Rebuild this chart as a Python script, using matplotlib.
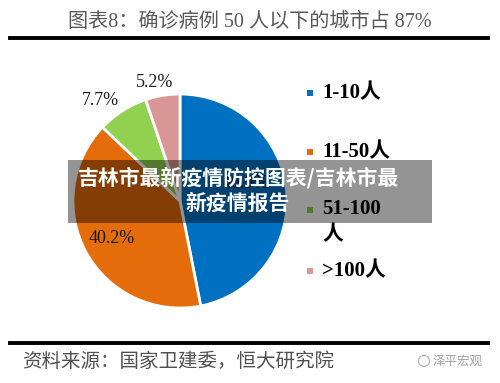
import matplotlib
matplotlib.use("Agg")
import matplotlib.pyplot as plt
from matplotlib.patches import Rectangle, Ellipse
from matplotlib.lines import Line2D

# data
categories = ["1-10人", "11-50人", "51-100\n人", ">100人"]
shares = [46.9, 40.2, 7.7, 5.2]
colors = ["#0070C0", "#E46C0A", "#92D050", "#D99694"]
legend_colors = ["#0070C0", "#E46C0A", "#92D050", "#D99694"]

title = "图表8：确诊病例 50 人以下的城市占 87%"
source = "资料来源：国家卫建委，恒大研究院"
banner = "吉林市最新疫情防控图表/吉林市最\n新疫情报告"
watermark = "泽平宏观"

W, H = 500, 383
SERIF_CJK = ["Liberation Serif", "Noto Sans CJK SC"]
CJK = ["Noto Sans CJK SC", "DejaVu Sans"]


def fx(px):
    return px / W


def fy(py):
    return 1 - py / H


fig = plt.figure(figsize=(W / 100, H / 100), dpi=100)
fig.patch.set_facecolor("white")

# title and rules
fig.text(fx(250), fy(22), title, ha="center", va="center", fontsize=14.5,
         color="#595959", family=SERIF_CJK)
fig.add_artist(Line2D([fx(10), fx(488)], [fy(38), fy(38)], lw=2.8, color="black"))
fig.add_artist(Line2D([fx(10), fx(488)], [fy(343), fy(343)], lw=2.8, color="black"))
fig.text(fx(22), fy(361), source, ha="left", va="center", fontsize=14,
         color="#505050", family=CJK)
fig.text(fx(483), fy(361), watermark, ha="right", va="center", fontsize=9,
         color="#a0a0a0", family=CJK)
fig.add_artist(Ellipse((fx(424), fy(361)), 11 / W, 11 / H, fill=False,
                       edgecolor="#b0b0b0", lw=0.8))

# pie
cx, cy, r = 180, 201, 107
ax = fig.add_axes([fx(cx - r), fy(cy + r), 2 * r / W, 2 * r / H])
wedges, texts, autotexts = ax.pie(
    shares, colors=colors, startangle=90, counterclock=False,
    autopct="%.1f%%", pctdistance=0.73,
    wedgeprops=dict(edgecolor="white", linewidth=2),
    textprops=dict(fontsize=13, family="Liberation Serif", color="#1a1a1a"))
ax.set_xlim(-1, 1)
ax.set_ylim(-1, 1)
ax.set_aspect("equal")
ax.axis("off")

# blue label sits further in, the two small slices outside
bx, by = autotexts[0].get_position()
autotexts[0].set_position((bx * 0.85, by * 0.85 + 0.1))
x, y = autotexts[2].get_position()
autotexts[2].set_position((x * 1.63 - 0.1, y * 1.63 - 0.06))
x, y = autotexts[3].get_position()
autotexts[3].set_position((x * 1.56 - 0.05, y * 1.56 - 0.02))

# legend
legend_y = [93, 152, 210, 271]
for lab, col, y in zip(categories, legend_colors, legend_y):
    fig.add_artist(Rectangle((fx(307), fy(y + 3)), 6 / W, 6 / H,
                             facecolor=col, edgecolor="none"))
    multi = "\n" in lab
    fig.text(fx(322), fy(y - 11) if multi else fy(y), lab, ha="left",
             va="top" if multi else "center", fontsize=15, fontweight="bold",
             family=SERIF_CJK, color="black", linespacing=1.4)

# overlay banner (darkening band)
fig.add_artist(Rectangle((fx(68), fy(223)), (432 - 68) / W, (223 - 160) / H,
                         facecolor="black", alpha=0.42, edgecolor="none",
                         zorder=10))
fig.text(fx(238), fy(190), banner, ha="center", va="center", fontsize=15,
         fontweight="bold", color="white", family=CJK, linespacing=1.25,
         zorder=11)

fig.savefig("out.png", dpi=100, facecolor="white")
